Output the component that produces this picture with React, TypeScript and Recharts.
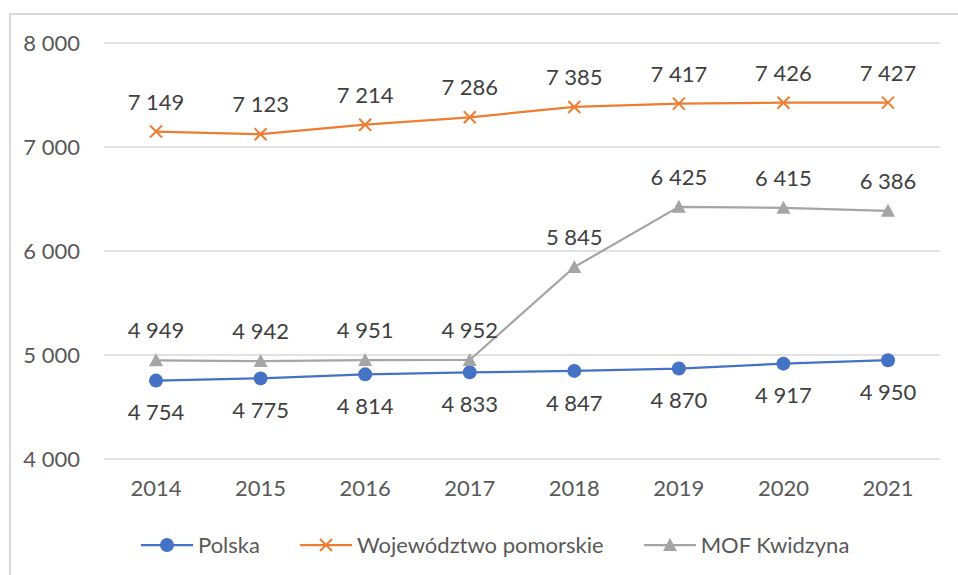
import { LineChart, Line, XAxis, YAxis, CartesianGrid, LabelList } from 'recharts'

const years = ['2014', '2015', '2016', '2017', '2018', '2019', '2020', '2021']
const polska = [4754, 4775, 4814, 4833, 4847, 4870, 4917, 4950]
const pomorskie = [7149, 7123, 7214, 7286, 7385, 7417, 7426, 7427]
const kwidzyn = [4949, 4942, 4951, 4952, 5845, 6425, 6415, 6386]
const yTicks = [4000, 5000, 6000, 7000, 8000]

const data = years.map((y, i) => ({
  year: y,
  polska: polska[i],
  pomorskie: pomorskie[i],
  kwidzyn: kwidzyn[i],
}))

const BLUE = '#4472C4'
const ORANGE = '#ED7D31'
const GRAY = '#A5A5A5'
const TEXT = '#595959'
const FONT = 'Lato, "Noto Sans", sans-serif'

const fmt = (v: unknown) => {
  const n = Number(v)
  return `${Math.floor(n / 1000)} ${String(n % 1000).padStart(3, '0')}`
}

const Circle = (p: any) => <circle key={p.index} cx={p.cx} cy={p.cy} r={7} fill={BLUE} />
const Cross = (p: any) => (
  <path
    key={p.index}
    d={`M${p.cx - 6},${p.cy - 6}L${p.cx + 6},${p.cy + 6}M${p.cx - 6},${p.cy + 6}L${p.cx + 6},${p.cy - 6}`}
    stroke={ORANGE}
    strokeWidth={2}
    fill="none"
  />
)
const Tri = (p: any) => (
  <path
    key={p.index}
    d={`M${p.cx},${p.cy - 7}L${p.cx + 7},${p.cy + 6}L${p.cx - 7},${p.cy + 6}Z`}
    fill={GRAY}
  />
)

function LegendItem({ color, label, marker }: { color: string; label: string; marker: 'c' | 'x' | 't' }) {
  return (
    <div style={{ display: 'flex', alignItems: 'center' }}>
      <svg width={52} height={20}>
        <line x1={0} y1={10} x2={52} y2={10} stroke={color} strokeWidth={2.25} />
        {marker === 'c' && <circle cx={26} cy={10} r={7} fill={color} />}
        {marker === 'x' && <path d="M20,4L32,16M20,16L32,4" stroke={color} strokeWidth={2} />}
        {marker === 't' && <path d="M26,3L33,16L19,16Z" fill={color} />}
      </svg>
      <span style={{ marginLeft: 5 }}>{label}</span>
    </div>
  )
}

export default function App() {
  return (
    <div style={{ position: 'absolute', left: 0, top: 0, width: 958, height: 575, background: '#fff', overflow: 'hidden', fontFamily: FONT }}>
      <div style={{ position: 'absolute', left: 9, top: 13, width: 1000, height: 600, border: '2px solid #D9D9D9' }} />
      <LineChart width={958} height={575} data={data} margin={{ top: 43, right: 18, left: 10, bottom: 76 }}>
        <CartesianGrid vertical={false} stroke="#D9D9D9" strokeWidth={1.5} />
        <XAxis
          dataKey="year"
          axisLine={false}
          tickLine={false}
          tickSize={0}
          tickMargin={21}
          height={40}
          padding={{ left: 52, right: 52 }}
          tick={{ fill: TEXT, fontSize: 22, fontFamily: FONT }}
        />
        <YAxis
          domain={[4000, 8000]}
          ticks={yTicks}
          axisLine={false}
          tickLine={false}
          tickSize={0}
          tickMargin={24}
          width={94}
          tickFormatter={fmt}
          tick={{ fill: TEXT, fontSize: 22, fontFamily: FONT }}
        />
        <Line dataKey="polska" stroke={BLUE} strokeWidth={2.25} dot={Circle} activeDot={false} isAnimationActive={false}>
          <LabelList dataKey="polska" position="bottom" offset={24} formatter={fmt} fill="#404040" fontSize={22} fontFamily={FONT} />
        </Line>
        <Line dataKey="pomorskie" stroke={ORANGE} strokeWidth={2.25} dot={Cross} activeDot={false} isAnimationActive={false}>
          <LabelList dataKey="pomorskie" position="top" offset={22} formatter={fmt} fill="#404040" fontSize={22} fontFamily={FONT} />
        </Line>
        <Line dataKey="kwidzyn" stroke={GRAY} strokeWidth={2.25} dot={Tri} activeDot={false} isAnimationActive={false}>
          <LabelList dataKey="kwidzyn" position="top" offset={22} formatter={fmt} fill="#404040" fontSize={22} fontFamily={FONT} />
        </Line>
      </LineChart>
      <div
        style={{
          position: 'absolute',
          left: 141,
          top: 531,
          display: 'flex',
          gap: 40,
          fontSize: 22,
          color: TEXT,
        }}
      >
        <LegendItem color={BLUE} label="Polska" marker="c" />
        <LegendItem color={ORANGE} label="Województwo pomorskie" marker="x" />
        <LegendItem color={GRAY} label="MOF Kwidzyna" marker="t" />
      </div>
    </div>
  )
}
